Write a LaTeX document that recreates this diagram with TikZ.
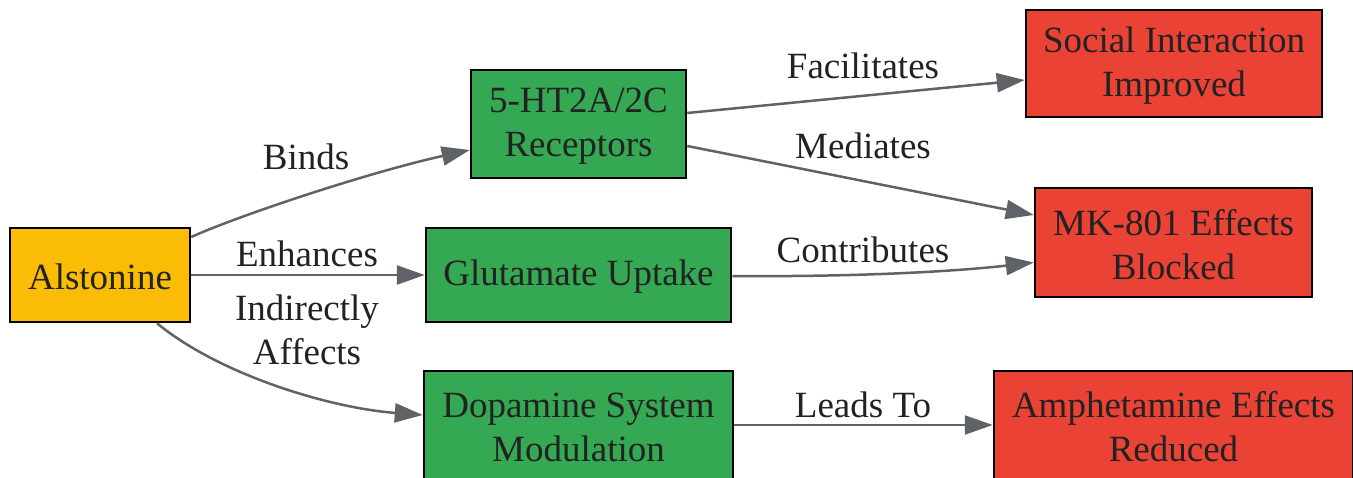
\documentclass[tikz,border=0pt]{standalone}
\usepackage{fontspec}
\setmainfont{Liberation Serif}
\usetikzlibrary{arrows.meta}
\definecolor{cyel}{HTML}{FBBC05}
\definecolor{cgrn}{HTML}{34A853}
\definecolor{cred}{HTML}{EA4335}
\definecolor{cedge}{HTML}{5F6368}
\definecolor{ctxt}{HTML}{222222}
\begin{document}
\begin{tikzpicture}[x=1pt,y=-1pt,
  box/.style={draw=black,line width=2.5pt,inner sep=0pt},
  boxtxt/.style={inner sep=0pt,align=center,text=ctxt,yshift=-2pt,
    font=\fontsize{37}{44}\selectfont},
  lbl/.style={inner sep=0pt,align=center,text=ctxt,font=\fontsize{37}{44}\selectfont},
  conn/.style={draw=cedge,line width=2.5pt,-{Triangle[length=28pt,width=19pt]}}]
\useasboundingbox (0,0) rectangle (1353,478);
\clip (0,0) rectangle (1353,478);
\node[box,fill=cyel,minimum width=180pt,minimum height=94pt,
  label={[boxtxt]center:Alstonine}] (al) at (100,275) {};
\node[box,fill=cgrn,minimum width=215pt,minimum height=108pt,
  label={[boxtxt]center:{5-HT2A/2C\\Receptors}}] (ht) at (578.5,124) {};
\node[box,fill=cgrn,minimum width=305pt,minimum height=94pt,
  label={[boxtxt]center:Glutamate Uptake}] (gl) at (578.5,275) {};
\node[box,fill=cgrn,minimum width=309pt,minimum height=108pt,
  label={[boxtxt]center:{Dopamine System\\Modulation}}] (dp) at (578.5,425) {};
\node[box,fill=cred,minimum width=296pt,minimum height=107pt,
  label={[boxtxt]center:{Social Interaction\\Improved}}] (so) at (1174,63.5) {};
\node[box,fill=cred,minimum width=277pt,minimum height=109pt,
  label={[boxtxt]center:{MK-801 Effects\\Blocked}}] (mk) at (1173.5,242.5) {};
\node[box,fill=cred,minimum width=359pt,minimum height=108pt,
  label={[boxtxt]center:{Amphetamine Effects\\Reduced}}] (am) at (1173.5,425) {};

\draw[conn] ([yshift=38pt]al.east) .. controls (240,215) and (370,172) .. ([yshift=-26pt]ht.west);
\draw[conn] (al.east) -- (gl.west);
\draw[conn] ([xshift=57pt]al.south) .. controls (220,375) and (330,408) .. ([yshift=10pt]dp.west);
\draw[conn] ([yshift=11pt]ht.east) -- ([yshift=-16.5pt]so.west);
\draw[conn] ([yshift=-22pt]ht.east) -- ([yshift=27.5pt]mk.west);
\draw[conn] ([yshift=-1pt]gl.east) .. controls (850,277) and (950,272) .. ([yshift=-20pt]mk.west);
\draw[conn] (dp.east) -- (am.west);

\node[lbl] (l1) at (306,157) {Binds};
\node[lbl] (l2) at (307,254) {Enhances};
\node[lbl] (l3) at (307,330) {Indirectly\\Affects};
\node[lbl] (l4) at (863,66) {Facilitates};
\node[lbl] (l5) at (863,146) {Mediates};
\node[lbl] (l6) at (863,250) {Contributes};
\node[lbl] (l7) at (863,405) {Leads To};
\end{tikzpicture}
\end{document}
